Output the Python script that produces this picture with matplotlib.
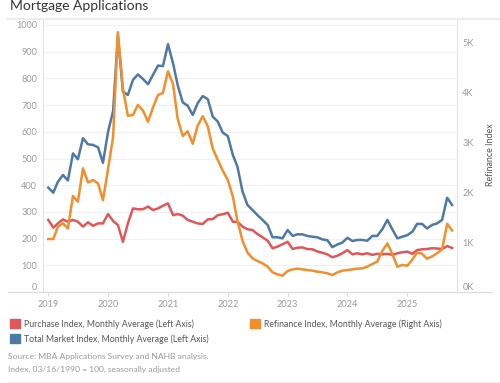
import matplotlib
matplotlib.use("Agg")
import matplotlib.pyplot as plt
import pandas as pd
from matplotlib.patches import Patch
from matplotlib.lines import Line2D

plt.rcParams['font.family'] = ['Lato', 'DejaVu Sans']

# monthly averages, Jan 2019 - Oct 2025
months = pd.date_range("2019-01-01", "2025-10-01", freq="MS")

purchase = [270, 241, 257, 272, 263, 270, 263, 245, 261, 248, 257, 257,
            292, 266, 251, 188, 257, 313, 310, 310, 320, 307, 313, 323,
            332, 288, 292, 286, 270, 263, 257, 255, 272, 273, 288, 291,
            297, 263, 263, 245, 235, 232, 217, 205, 192, 164, 170, 179,
            188, 161, 166, 167, 161, 160, 152, 147, 141, 130, 136, 145,
            157, 141, 145, 141, 145, 139, 143, 141, 143, 139, 145, 149,
            151, 143, 157, 160, 161, 164, 163, 161, 172, 165]

total = [391, 372, 413, 438, 418, 519, 497, 576, 553, 551, 542, 484,
         600, 678, 960, 750, 738, 794, 815, 798, 778, 813, 848, 846,
         928, 856, 775, 710, 698, 663, 707, 734, 722, 657, 638, 597,
         584, 513, 469, 376, 326, 307, 288, 270, 251, 205, 205, 201,
         232, 210, 216, 216, 210, 207, 205, 197, 194, 168, 178, 185,
         203, 191, 195, 195, 192, 210, 210, 235, 270, 235, 201, 207,
         213, 226, 255, 255, 238, 251, 257, 270, 353, 326]

refinance = [1060, 1060, 1307, 1373, 1273, 1920, 1807, 2473, 2190, 2240, 2173, 1835,
             2460, 3105, 5195, 4070, 3525, 3540, 3740, 3630, 3405, 3690, 3940, 3980,
             4415, 4155, 3465, 3120, 3215, 2965, 3330, 3515, 3310, 2870, 2640, 2425,
             2240, 1907, 1420, 1020, 790, 673, 620, 573, 507, 393, 353, 327,
             420, 453, 467, 453, 440, 427, 407, 393, 373, 340, 393, 427,
             440, 453, 467, 473, 507, 560, 607, 820, 973, 760, 507, 540,
             527, 650, 790, 765, 665, 713, 773, 855, 1365, 1230]

years = [2019, 2020, 2021, 2022, 2023, 2024, 2025]
left_ticks = [0, 100, 200, 300, 400, 500, 600, 700, 800, 900, 1000]
right_ticks = [0, 1000, 2000, 3000, 4000, 5000]
right_labels = ["0K", "1K", "2K", "3K", "4K", "5K"]

RED = "#e15759"
BLUE = "#4e79a7"
ORANGE = "#f28e2b"
TICK = "#9a9a9a"
LINE = "#e4e4e4"

fig = plt.figure(figsize=(5, 3.83), dpi=100)
W, H = 500, 383
ax = fig.add_axes([43 / W, 1 - 292 / H, 414 / W, 272 / H])

ax.plot(months, total, color=BLUE, lw=1.8, solid_joinstyle='round')
ax.plot(months, purchase, color=RED, lw=1.8, solid_joinstyle='round')
ax2 = ax.twinx()
ax2.plot(months, refinance, color=ORANGE, lw=1.8, solid_joinstyle='round')

ax.set_xlim(pd.Timestamp("2018-11-30"), pd.Timestamp("2025-10-31"))
ax.set_ylim(0, 272 / 0.267)
ax2.set_ylim(0, 272 * 20)

ax.set_xticks([pd.Timestamp(f"{y}-01-01") for y in years])
ax.set_xticklabels([str(y) for y in years])
ax.set_yticks(left_ticks)
ax.set_yticklabels([str(v) for v in left_ticks])
ax2.set_yticks(right_ticks)
ax2.set_yticklabels(right_labels)

ax.tick_params(axis='x', length=3, width=0.8, color="#dddddd", pad=2.5,
               labelsize=6.6, labelcolor=TICK)
ax.tick_params(axis='y', length=0, pad=4.3, labelsize=6.6, labelcolor=TICK)
ax2.tick_params(axis='y', length=0, pad=3.8, labelsize=6.6, labelcolor=TICK)

ax.yaxis.grid(True, color="#f1f1f1", lw=0.8)
ax.set_axisbelow(True)

for s in ['top', 'bottom', 'right']:
    ax.spines[s].set_visible(False)
ax.spines['left'].set_color(LINE)
for s in ['top', 'bottom', 'left']:
    ax2.spines[s].set_visible(False)
ax2.spines['right'].set_color(LINE)

# push the zero labels up a little
ax.yaxis.get_major_ticks()[0].label1.set_verticalalignment('bottom')
ax2.yaxis.get_major_ticks()[0].label2.set_verticalalignment('bottom')

ax2.set_ylabel("Refinance Index", fontsize=6.4, color="#555555", rotation=90)
ax2.yaxis.set_label_coords((486 - 43) / 414, (292 - 155) / 272)

# title and rules
fig.text(10 / W, 1 - 10 / H, "Mortgage Applications", fontsize=10,
         color="#333333", va='baseline', ha='left')
fig.add_artist(Line2D([8 / W, 1], [1 - 19 / H] * 2, color="#ececec", lw=1.6))
fig.add_artist(Line2D([8 / W, 492 / W], [1 - 292 / H] * 2, color="#dddddd", lw=1))
fig.add_artist(Line2D([8 / W, 1], [1 - 382 / H] * 2, color="#f0f0f0", lw=1))

leg_kw = dict(frameon=False, handlelength=1.15, handleheight=1.15, handletextpad=0.45,
              labelspacing=0.65, fontsize=6.3, labelcolor="#555555",
              borderpad=0, borderaxespad=0, loc='upper left')
fig.legend(handles=[Patch(color=RED, label="Purchase Index, Monthly Average (Left Axis)"),
                    Patch(color=BLUE, label="Total Market Index, Monthly Average (Left Axis)")],
           bbox_to_anchor=(10 / W, 1 - 319 / H), **leg_kw)
fig.legend(handles=[Patch(color=ORANGE, label="Refinance Index, Monthly Average (Right Axis)")],
           bbox_to_anchor=(250 / W, 1 - 319 / H), **leg_kw)

fig.text(8 / W, 1 - 357 / H, "Source: MBA Applications Survey and NAHB analysis.",
         fontsize=6.1, color=TICK, va='center')
fig.text(8 / W, 1 - 369 / H, "Index, 03/16/1990 = 100, seasonally adjusted",
         fontsize=6.1, color=TICK, va='center')

fig.savefig("out.png", dpi=100)
